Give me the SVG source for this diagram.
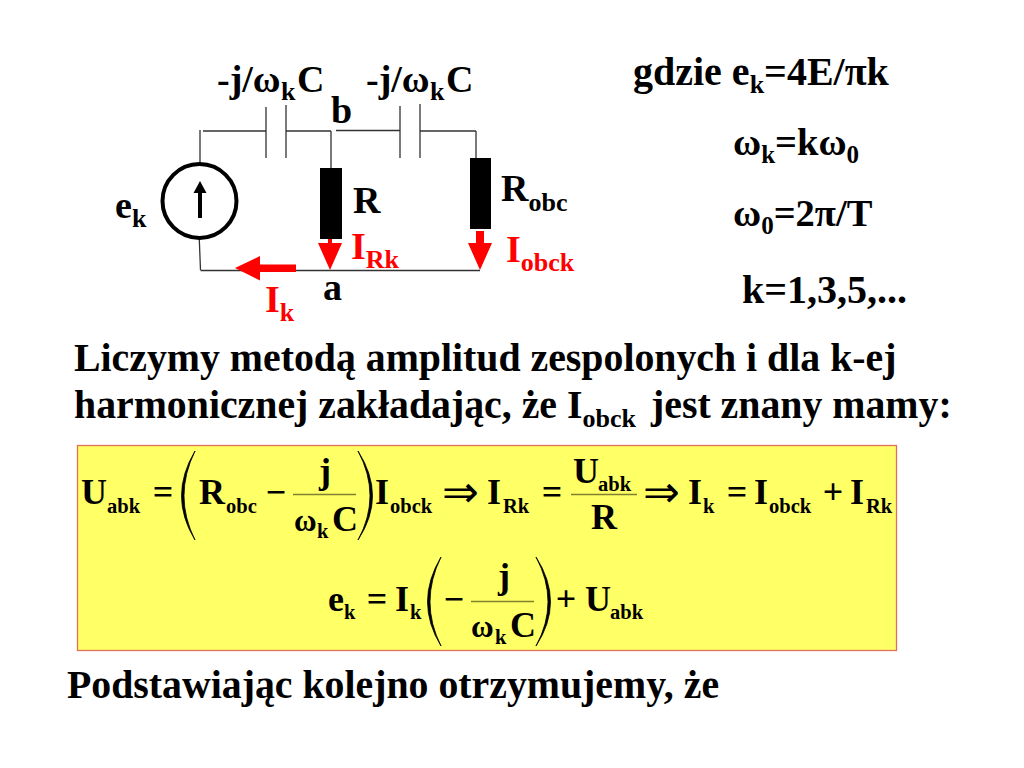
<svg xmlns="http://www.w3.org/2000/svg" width="1024" height="768" viewBox="0 0 1024 768">
<style>
text{font-family:"Liberation Serif","Times New Roman",serif;font-weight:bold;fill:#000}
.c{font-size:38px}.cs{font-size:26px}
.d{font-size:38.500px}.ds{font-size:25px}
.b{font-size:39.800px}.bs{font-size:26px}
.g{font-size:40px}
.r{fill:#f00}
.e{font-size:36px}.es{font-size:20.500px}.o{font-size:31px}
.i{font-size:44px;font-weight:normal}
.w{stroke:#333;stroke-width:1.3;fill:none}
.f{stroke:#7f7f30;stroke-width:1.3;fill:none}
.p{stroke:#000;stroke-width:.8;fill:#000}
</style>
<rect width="1024" height="768" fill="#fff"/>
<g id="connectors">
<path class="w" d="M200 130V164M203 131H266M266 107V158M286 105V158M286 131H331M331 131V168M336 130.500H400M400 106V158M420 104V158M420 131H476M476 131V158M199 232L200.500 270M200.500 270.500H480"/>
</g>
<g id="source"><circle cx="199.500" cy="201" r="37" fill="#fff" stroke="#000" stroke-width="4"/>
<path d="M198 218V193H193.500L200 181L206.500 193H202V218Z" fill="#000"/></g>
<g id="resistor-r"><rect x="320" y="168" width="22" height="71" fill="#000"/></g>
<g id="resistor-robc"><rect x="470" y="158" width="21" height="71" fill="#000"/></g>
<g id="currents" fill="#f00">
<path d="M328 239H332V243H342L330 270L318 243H328Z"/>
<path d="M476 231H484V243H492L480 270L468 243H476Z"/>
<path d="M235 268L260 256V264.500H296V272H260V280.500Z"/>
</g>
<g id="circuit-labels">
<text x="217" y="92" class="c">-j/ω<tspan class="cs" x="281" dy="8">k</tspan><tspan x="297" dy="-8">C</tspan></text>
<text x="366" y="92" class="c">-j/ω<tspan class="cs" x="430" dy="8">k</tspan><tspan x="446" dy="-8">C</tspan></text>
<text x="331" y="123" class="c">b</text>
<text x="115" y="218" class="c">e<tspan class="cs" dy="9">k</tspan></text>
<text x="353" y="213" class="c">R</text>
<text x="501" y="201" class="c">R<tspan class="cs" dy="10">obc</tspan></text>
<text x="351" y="259" class="c r">I<tspan class="cs r" dy="9">Rk</tspan></text>
<text x="506" y="262" class="c r">I<tspan class="cs r" dy="9">obck</tspan></text>
<text x="265" y="312" class="c r">I<tspan class="cs r" dy="9">k</tspan></text>
<text x="323" y="300" class="c">a</text>
</g>
<g id="definitions">
<text x="633" y="85" class="g">gdzie e<tspan class="bs" dy="8">k</tspan><tspan dy="-8">=4E/πk</tspan></text>
<text x="733" y="155" class="d">ω<tspan class="ds" dy="8">k</tspan><tspan dy="-8">=kω</tspan><tspan class="ds" dy="8">0</tspan></text>
<text x="733" y="226" class="d">ω<tspan class="ds" dy="8">0</tspan><tspan dy="-8">=2π/T</tspan></text>
<text x="742" y="303" class="g">k=1,3,5,...</text>
</g>
<g id="body-text">
<text x="74" y="371" class="b">Liczymy metodą amplitud zespolonych i dla k-ej</text>
<text x="74" y="418" class="b">harmonicznej zakładając, że I<tspan class="bs" dy="9">obck</tspan><tspan x="651" dy="-9">jest znany mamy:</tspan></text>
<text x="67" y="698" class="b">Podstawiając kolejno otrzymujemy, że</text>
</g>
<g id="equation-box">
<rect x="77.500" y="445.500" width="819" height="205" fill="#ffff66" stroke="#e0705a" stroke-width="1.300"/>
<text x="81" y="504" class="e">U<tspan class="es" x="107" dy="9">abk</tspan></text>
<text x="163" y="504" class="e" text-anchor="middle">=</text>
<path class="p" d="M195 451Q168 496 195 540Q173 496 195 451Z"/>
<text x="199" y="504" class="e">R<tspan class="es" x="226" dy="9">obc</tspan></text>
<text x="276" y="504" class="e" text-anchor="middle">−</text>
<path class="f" d="M293 494.500H356"/>
<text x="325" y="483" class="e" text-anchor="middle">j</text>
<text x="294" y="531"><tspan class="o">ω</tspan><tspan class="es" x="317" dy="7">k</tspan><tspan class="e" x="332" dy="-7">C</tspan></text>
<path class="p" d="M358 451Q387 496 358 540Q382 496 358 451Z"/>
<text x="375" y="504" class="e">I<tspan class="es" x="390" dy="9">obck</tspan></text>
<text x="460" y="507" class="i" text-anchor="middle">⇒</text>
<text x="487" y="504" class="e">I<tspan class="es" x="503" dy="9">Rk</tspan></text>
<text x="552" y="504" class="e" text-anchor="middle">=</text>
<path class="f" d="M571 494.500H637"/>
<text x="573" y="483" class="e">U<tspan class="es" x="598" dy="8">abk</tspan></text>
<text x="604" y="529" class="e" text-anchor="middle">R</text>
<text x="661" y="507" class="i" text-anchor="middle">⇒</text>
<text x="688" y="504" class="e">I<tspan class="es" x="703" dy="9">k</tspan></text>
<text x="737" y="504" class="e" text-anchor="middle">=</text>
<text x="754" y="504" class="e">I<tspan class="es" x="769" dy="9">obck</tspan></text>
<text x="833" y="504" class="e" text-anchor="middle">+</text>
<text x="850" y="504" class="e">I<tspan class="es" x="866" dy="9">Rk</tspan></text>
<text x="328" y="611" class="e">e<tspan class="es" x="344" dy="8">k</tspan></text>
<text x="377" y="611" class="e" text-anchor="middle">=</text>
<text x="395" y="611" class="e">I<tspan class="es" x="410" dy="8">k</tspan></text>
<path class="p" d="M441 557Q414 602 441 646Q419 602 441 557Z"/>
<text x="454" y="611" class="e" text-anchor="middle">−</text>
<path class="f" d="M471 601.500H534"/>
<text x="504" y="588" class="e" text-anchor="middle">j</text>
<text x="471" y="637"><tspan class="o">ω</tspan><tspan class="es" x="495" dy="7">k</tspan><tspan class="e" x="510" dy="-7">C</tspan></text>
<path class="p" d="M536 557Q565 602 536 646Q560 602 536 557Z"/>
<text x="566" y="611" class="e" text-anchor="middle">+</text>
<text x="585" y="611" class="e">U<tspan class="es" x="610" dy="8">abk</tspan></text>
</g>
</svg>
